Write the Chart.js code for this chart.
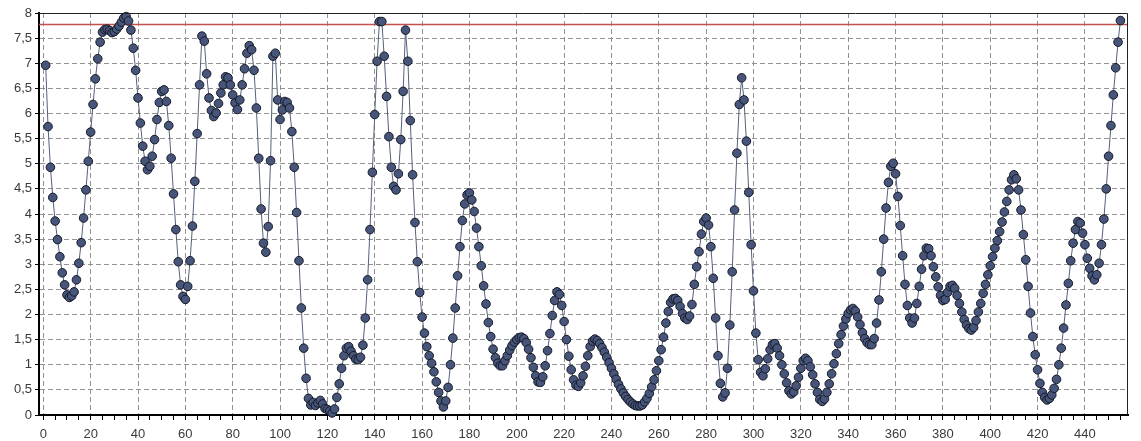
<!DOCTYPE html>
<html>
<head>
<meta charset="utf-8">
<script src="https://cdn.jsdelivr.net/npm/chart.js@4.4.1/dist/chart.umd.min.js"></script>
<style>
  html, body { margin: 0; padding: 0; background: #ffffff; overflow: hidden; }
  canvas { display: block; }
</style>
</head>
<body>
<canvas id="plot" width="1141" height="441"></canvas>
<script>
// Sample numbers start at 1; one reading per sample.
const firstSample = 1;
const readings = [
  6.96, 5.74, 4.93, 4.33, 3.86, 3.49, 3.15, 2.83, 2.59, 2.39,
  2.34, 2.37, 2.45, 2.69, 3.02, 3.43, 3.92, 4.48, 5.05, 5.63,
  6.18, 6.69, 7.09, 7.42, 7.62, 7.67, 7.68, 7.65, 7.61, 7.63,
  7.68, 7.74, 7.82, 7.90, 7.93, 7.84, 7.66, 7.30, 6.86, 6.31,
  5.81, 5.35, 5.05, 4.88, 4.95, 5.15, 5.48, 5.88, 6.22, 6.44,
  6.47, 6.24, 5.76, 5.11, 4.40, 3.69, 3.05, 2.59, 2.36, 2.30,
  2.56, 3.07, 3.76, 4.65, 5.60, 6.57, 7.54, 7.44, 6.79, 6.31,
  6.06, 5.94, 6.01, 6.20, 6.41, 6.57, 6.73, 6.71, 6.57, 6.37,
  6.21, 6.08, 6.27, 6.57, 6.89, 7.20, 7.35, 7.27, 6.86, 6.11,
  5.11, 4.10, 3.42, 3.24, 3.75, 5.06, 7.14, 7.20, 6.27, 5.88,
  6.07, 6.24, 6.22, 6.11, 5.64, 4.93, 4.03, 3.07, 2.13, 1.33,
  0.73, 0.33, 0.20, 0.25, 0.19, 0.24, 0.29, 0.22, 0.13, 0.11,
  0.08, 0.04, 0.12, 0.35, 0.62, 0.93, 1.18, 1.33, 1.36, 1.27,
  1.18, 1.11, 1.10, 1.15, 1.39, 1.93, 2.69, 3.69, 4.83, 5.98,
  7.04, 7.83, 7.83, 7.14, 6.34, 5.54, 4.93, 4.55, 4.48, 4.80,
  5.48, 6.44, 7.66, 7.04, 5.86, 4.78, 3.83, 3.05, 2.44, 1.95,
  1.63, 1.36, 1.18, 1.03, 0.86, 0.66, 0.45, 0.28, 0.16, 0.28,
  0.55, 1.00, 1.53, 2.13, 2.77, 3.35, 3.87, 4.20, 4.38, 4.42,
  4.28, 4.05, 3.72, 3.35, 2.97, 2.57, 2.21, 1.84, 1.56, 1.31,
  1.14, 1.03, 0.98, 0.98, 1.08, 1.18, 1.29, 1.38, 1.45, 1.50,
  1.54, 1.55, 1.52, 1.44, 1.31, 1.14, 0.95, 0.78, 0.66, 0.65,
  0.76, 0.98, 1.28, 1.62, 1.98, 2.28, 2.45, 2.40, 2.18, 1.86,
  1.50, 1.17, 0.90, 0.70, 0.59, 0.57, 0.64, 0.78, 0.97, 1.18,
  1.36, 1.47, 1.51, 1.48, 1.42, 1.34, 1.25, 1.15, 1.04, 0.93,
  0.82, 0.71, 0.61, 0.52, 0.44, 0.37, 0.31, 0.26, 0.22, 0.19,
  0.18, 0.18, 0.20, 0.26, 0.33, 0.43, 0.56, 0.70, 0.88, 1.08,
  1.30, 1.55, 1.83, 2.06, 2.24, 2.31, 2.32, 2.28, 2.16, 2.02,
  1.93, 1.90, 1.97, 2.20, 2.60, 2.95, 3.25, 3.60, 3.85, 3.92,
  3.78, 3.35, 2.72, 1.93, 1.18, 0.63, 0.36, 0.44, 0.93, 1.79,
  2.85, 4.08, 5.21, 6.18, 6.71, 6.27, 5.45, 4.43, 3.39, 2.47,
  1.63, 1.10, 0.85, 0.78, 0.92, 1.12, 1.30, 1.40, 1.42, 1.33,
  1.18, 1.00, 0.82, 0.64, 0.48, 0.42, 0.46, 0.58, 0.75, 0.93,
  1.08, 1.13, 1.08, 0.96, 0.80, 0.62, 0.45, 0.31, 0.27, 0.32,
  0.45, 0.62, 0.82, 1.02, 1.22, 1.42, 1.60, 1.77, 1.91, 2.02,
  2.09, 2.12, 2.07, 1.95, 1.80, 1.64, 1.52, 1.44, 1.40, 1.40,
  1.52, 1.83, 2.29, 2.85, 3.50, 4.12, 4.63, 4.95, 5.01, 4.80,
  4.35, 3.77, 3.17, 2.60, 2.18, 1.93, 1.83, 1.93, 2.22, 2.56,
  2.90, 3.17, 3.32, 3.31, 3.17, 2.95, 2.75, 2.55, 2.38, 2.28,
  2.30, 2.44, 2.56, 2.58, 2.52, 2.38, 2.22, 2.05, 1.90, 1.79,
  1.72, 1.69, 1.74, 1.88, 2.05, 2.22, 2.42, 2.60, 2.79, 2.97,
  3.15, 3.32, 3.47, 3.65, 3.84, 4.04, 4.25, 4.48, 4.68, 4.78,
  4.70, 4.48, 4.08, 3.59, 3.09, 2.56, 2.03, 1.56, 1.20, 0.90,
  0.63, 0.45, 0.35, 0.30, 0.33, 0.40, 0.53, 0.71, 1.00, 1.33,
  1.73, 2.19, 2.62, 3.07, 3.42, 3.69, 3.85, 3.82, 3.62, 3.39,
  3.12, 2.92, 2.77, 2.69, 2.79, 3.02, 3.39, 3.90, 4.50, 5.15,
  5.76, 6.37, 6.91, 7.42, 7.85
];

// Upper limit drawn as a horizontal reference line.
const limitLevel = 7.77;

// Axis ranges and tick spacing.
const xRange = [-1.82, 458.2];
const yRange = [0, 8];
const xMinorStep = 5;
const xLabelStep = 20;
const yStep = 0.5;

const gridColor = '#939393';
const labelColor = '#3a3a3a';
const labelFont = { family: "'Liberation Sans', Arial, sans-serif", size: 13 };

const points = readings.map((v, i) => ({ x: firstSample + i, y: v }));
const limitLine = [{ x: xRange[0], y: limitLevel }, { x: xRange[1], y: limitLevel }];

const xTickValues = [];
for (let v = 0; v <= xRange[1]; v += xMinorStep) xTickValues.push(v);

// Thin frame along the top and right edges of the plot area.
const framePlugin = {
  id: 'frame',
  afterDatasetsDraw(chart) {
    const { ctx, chartArea: a } = chart;
    ctx.save();
    ctx.strokeStyle = '#222222';
    ctx.lineWidth = 1;
    ctx.beginPath();
    ctx.moveTo(a.left, a.top + 0.5);
    ctx.lineTo(a.right - 0.5, a.top + 0.5);
    ctx.lineTo(a.right - 0.5, a.bottom);
    ctx.stroke();
    ctx.restore();
  }
};

new Chart(document.getElementById('plot'), {
  type: 'line',
  data: {
    datasets: [
      {
        data: points,
        borderColor: '#55617a',
        borderWidth: 1,
        pointRadius: 4.3,
        pointBackgroundColor: '#47557a',
        pointBorderColor: '#151927',
        pointBorderWidth: 1,
        tension: 0,
        clip: false,
        order: 1
      },
      {
        data: limitLine,
        borderColor: '#c0524b',
        borderWidth: 1.5,
        pointRadius: 0,
        tension: 0,
        order: 2
      }
    ]
  },
  options: {
    responsive: false,
    animation: false,
    events: [],
    layout: { padding: { top: 13, right: 13, left: 0, bottom: 0 } },
    plugins: { legend: { display: false }, tooltip: { enabled: false } },
    scales: {
      x: {
        type: 'linear',
        min: xRange[0],
        max: xRange[1],
        afterFit: s => { s.height = 26; },
        afterBuildTicks: s => { s.ticks = xTickValues.map(v => ({ value: v })); },
        ticks: {
          autoSkip: false,
          maxRotation: 0,
          padding: 7,
          color: labelColor,
          font: labelFont,
          callback: v => (v % xLabelStep === 0 ? String(v) : '')
        },
        grid: {
          color: c => (c.tick && c.tick.value % xLabelStep === 0) ? gridColor : 'rgba(0,0,0,0)',
          tickColor: '#000000',
          tickLength: 5,
          lineWidth: 1
        },
        border: { color: '#000000', width: 2, dash: [5, 3] }
      },
      y: {
        type: 'linear',
        min: yRange[0],
        max: yRange[1],
        afterFit: s => { s.width = 39; },
        ticks: {
          stepSize: yStep,
          padding: 3,
          color: labelColor,
          font: labelFont,
          callback: v => String(v).replace('.', ',')
        },
        grid: {
          color: c => (c.tick && c.tick.value > yRange[0] && c.tick.value < yRange[1]) ? gridColor : 'rgba(0,0,0,0)',
          tickColor: '#000000',
          tickLength: 4,
          lineWidth: 1
        },
        border: { color: '#000000', width: 2, dash: [5, 3] }
      }
    }
  },
  plugins: [framePlugin]
});
</script>
</body>
</html>
